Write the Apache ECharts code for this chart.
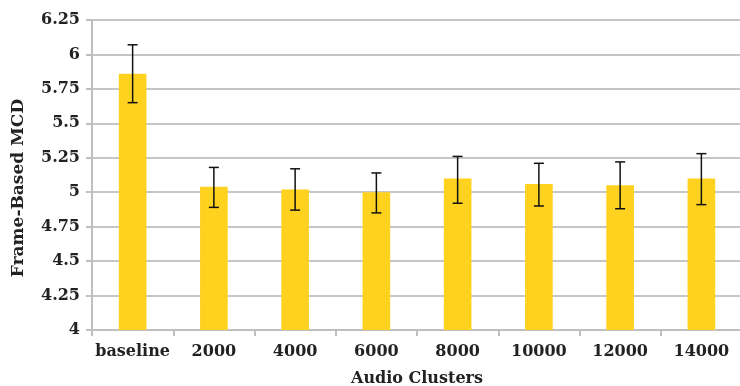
<!DOCTYPE html>
<html><head><meta charset="utf-8">
<script src="https://cdn.jsdelivr.net/npm/echarts@6/dist/echarts.min.js"></script>
<style>html,body{margin:0;padding:0;background:#fff}#c{width:740px;height:386px}</style>
</head><body><div id="c"></div>
<script>
const categories = ['baseline','2000','4000','6000','8000','10000','12000','14000'];
const values =   [5.86, 5.04, 5.02, 5.00, 5.10, 5.06, 5.05, 5.10];
const errLow =   [5.65, 4.89, 4.87, 4.85, 4.92, 4.90, 4.88, 4.91];
const errHigh =  [6.07, 5.18, 5.17, 5.14, 5.26, 5.21, 5.22, 5.28];
const yTicks = ['4','4.25','4.5','4.75','5','5.25','5.5','5.75','6','6.25'];
const yTitle = 'Frame-Based MCD';
const xTitle = 'Audio Clusters';

const FONT = 'DejaVu Serif';
const chart = echarts.init(document.getElementById('c'));
chart.setOption({
  animation: false,
  grid: {left: 92, top: 20, width: 650, height: 310, containLabel: false, outerBoundsMode: 'none'},
  graphic: [{
    type: 'text', x: 19, y: 188, rotation: Math.PI / 2,
    style: {text: yTitle, fontFamily: FONT, fontWeight: 'bold', fontSize: 17, fill: '#222',
      align: 'center', verticalAlign: 'middle'}
  }],
  xAxis: {
    type: 'category', data: categories,
    name: xTitle, nameLocation: 'middle', nameGap: 41,
    nameTextStyle: {fontFamily: FONT, fontWeight: 'bold', fontSize: 16, color: '#222'},
    axisLine: {lineStyle: {color: '#bfbfbf', width: 2}},
    axisTick: {show: true, length: 6, lineStyle: {color: '#bfbfbf', width: 2}},
    axisLabel: {interval: 0, fontFamily: FONT, fontWeight: 'bold', fontSize: 16, color: '#222', margin: 14}
  },
  yAxis: {
    type: 'value', min: 4, max: 6.25, interval: 0.25,
    axisLine: {show: true, lineStyle: {color: '#bfbfbf', width: 2}},
    axisTick: {show: true, length: 6, lineStyle: {color: '#bfbfbf', width: 2}},
    splitLine: {lineStyle: {color: '#c6c6c6', width: 2}},
    axisLabel: {fontFamily: FONT, fontWeight: 'bold', fontSize: 16, color: '#222', margin: 12,
      formatter: v => { const i = Math.round((v - 4) / 0.25); return yTicks[i] !== undefined ? yTicks[i] : ''; }}
  },
  series: [
    {type: 'bar', data: values, barWidth: '34%', itemStyle: {color: '#FFD21F'}, z: 2},
    {type: 'custom', z: 5,
      data: categories.map((c, i) => [i, errLow[i], errHigh[i]]),
      encode: {x: 0, y: [1, 2]},
      renderItem: function (params, api) {
        const lo = api.coord([api.value(0), api.value(1)]);
        const hi = api.coord([api.value(0), api.value(2)]);
        const w = 5;
        const st = {stroke: '#111', lineWidth: 1.5};
        return {type: 'group', children: [
          {type: 'line', shape: {x1: hi[0], y1: hi[1], x2: lo[0], y2: lo[1]}, style: st},
          {type: 'line', shape: {x1: hi[0]-w, y1: hi[1], x2: hi[0]+w, y2: hi[1]}, style: st},
          {type: 'line', shape: {x1: lo[0]-w, y1: lo[1], x2: lo[0]+w, y2: lo[1]}, style: st}
        ]};
      }
    }
  ]
});
</script></body></html>
